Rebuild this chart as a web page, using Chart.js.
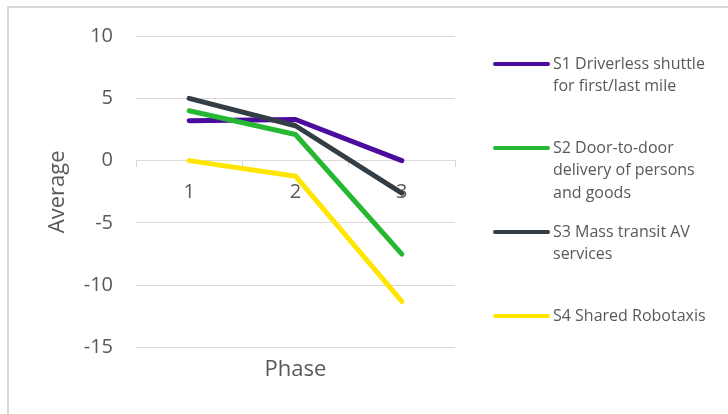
<!DOCTYPE html>
<html>
<head>
<meta charset="utf-8">
<script src="https://cdn.jsdelivr.net/npm/chart.js@4/dist/chart.umd.min.js"></script>
<style>
  html, body { margin: 0; padding: 0; background: #ffffff; }
  #wrap { width: 728px; height: 414px; position: relative; }
</style>
</head>
<body>
<div id="wrap"><canvas id="c"></canvas></div>
<script>
// ---- data ----
const phases = ['1', '2', '3'];
const seriesNames = [
  'S1 Driverless shuttle for first/last mile',
  'S2 Door-to-door delivery of persons and goods',
  'S3 Mass transit AV services',
  'S4 Shared Robotaxis'
];
const legendLines = [
  ['S1 Driverless shuttle', 'for first/last mile'],
  ['S2 Door-to-door', 'delivery of persons', 'and goods'],
  ['S3 Mass transit AV', 'services'],
  ['S4 Shared Robotaxis']
];
const s1Values = [3.2, 3.3, 0.0];
const s2Values = [4.0, 2.1, -7.5];
const s3Values = [5.0, 2.8, -2.6];
const s4Values = [0.0, -1.25, -11.3];
const yTicks = [10, 5, 0, -5, -10, -15];

const colors = ['#4B0C9E', '#26B832', '#333D45', '#FFE600'];
const FONT = '"Open Sans", "DejaVu Sans", sans-serif';
const TEXT = '#595959';
const GRID = '#d9d9d9';

const seriesValues = [s1Values, s2Values, s3Values, s4Values];

const outerBorder = {
  id: 'outerBorder',
  beforeDraw(chart) {
    const ctx = chart.ctx;
    ctx.save();
    ctx.strokeStyle = GRID;
    ctx.lineWidth = 2;
    ctx.beginPath();
    ctx.moveTo(8, 414);
    ctx.lineTo(8, 7);
    ctx.lineTo(728, 7);
    ctx.stroke();
    ctx.restore();
  }
};

const sideLegend = {
  id: 'sideLegend',
  afterDraw(chart) {
    const ctx = chart.ctx;
    ctx.save();
    chart.data.datasets.forEach((ds, i) => {
      const y0 = 64 + i * 84;
      ctx.strokeStyle = ds.borderColor;
      ctx.lineWidth = 4;
      ctx.lineCap = 'round';
      ctx.beginPath();
      ctx.moveTo(495, y0);
      ctx.lineTo(548, y0);
      ctx.stroke();
      ctx.fillStyle = TEXT;
      ctx.font = '16px ' + FONT;
      ctx.textAlign = 'left';
      ctx.textBaseline = 'middle';
      legendLines[i].forEach((line, j) => {
        ctx.fillText(line, 553, y0 + j * 22.5);
      });
    });
    ctx.restore();
  }
};

new Chart(document.getElementById('c'), {
  type: 'line',
  data: {
    labels: phases,
    datasets: seriesValues.map((vals, i) => ({
      label: seriesNames[i],
      data: vals,
      borderColor: colors[i],
      backgroundColor: colors[i],
      borderWidth: 5,
      borderCapStyle: 'round',
      borderJoinStyle: 'round',
      pointRadius: 0,
      pointHoverRadius: 0,
      tension: 0,
      fill: false,
      order: 4 - i
    }))
  },
  options: {
    responsive: true,
    maintainAspectRatio: false,
    animation: false,
    layout: { padding: { left: 0, right: 273, top: 36, bottom: 31 } },
    plugins: {
      legend: { display: false },
      tooltip: { enabled: false },
      title: {
        display: true,
        text: 'Phase',
        position: 'bottom',
        fullSize: false,
        color: TEXT,
        font: { family: FONT, size: 22, weight: 'normal', lineHeight: 1.2 },
        padding: { top: 9, bottom: 0 }
      }
    },
    scales: {
      x: {
        type: 'category',
        position: { y: 0 },
        offset: true,
        grid: {
          display: true,
          drawOnChartArea: false,
          drawTicks: true,
          tickLength: 6,
          color: GRID,
          offset: true
        },
        border: { display: true, color: GRID, width: 1 },
        ticks: {
          color: TEXT,
          font: { family: FONT, size: 20 },
          padding: 14,
          maxRotation: 0
        }
      },
      y: {
        min: -15,
        max: 10,
        afterFit(scale) { scale.width = 136; },
        afterBuildTicks(scale) { scale.ticks = yTicks.map(v => ({ value: v })); },
        grid: { color: GRID, lineWidth: 1, drawTicks: false },
        border: { display: false },
        ticks: {
          stepSize: 5,
          color: TEXT,
          font: { family: FONT, size: 20 },
          padding: 23
        },
        title: {
          display: true,
          text: 'Average',
          color: TEXT,
          font: { family: FONT, size: 22, lineHeight: 1.2 },
          padding: { top: 45, bottom: 0 }
        }
      }
    }
  },
  plugins: [outerBorder, sideLegend]
});
</script>
</body>
</html>
